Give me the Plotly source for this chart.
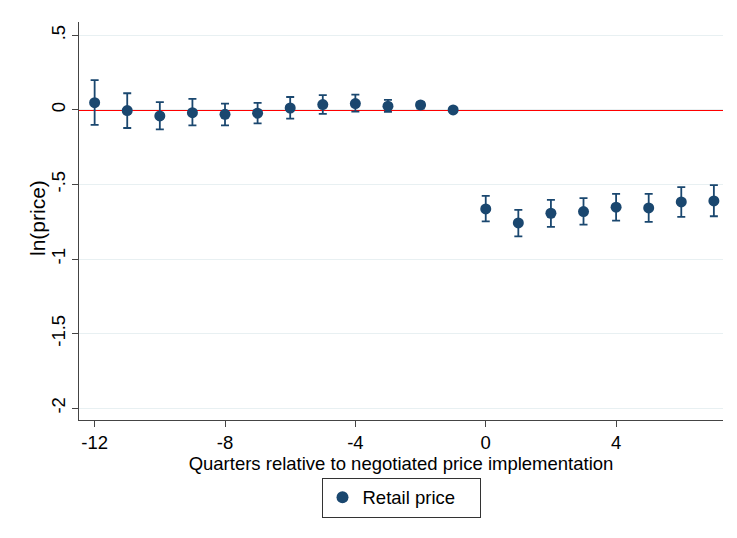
import plotly.graph_objects as go

quarters = [-12, -11, -10, -9, -8, -7, -6, -5, -4, -3, -2, -1, 0, 1, 2, 3, 4, 5, 6, 7]
coef = [0.049, -0.004, -0.040, -0.018, -0.029, -0.022, 0.013, 0.036, 0.043, 0.025, 0.034, 0.0,
        -0.664, -0.758, -0.693, -0.682, -0.652, -0.657, -0.617, -0.610]
ci_hi = [0.200, 0.112, 0.052, 0.074, 0.043, 0.047, 0.087, 0.099, 0.103, 0.067, 0.054, 0.0,
         -0.576, -0.670, -0.603, -0.592, -0.563, -0.563, -0.518, -0.504]
ci_lo = [-0.100, -0.121, -0.130, -0.103, -0.103, -0.090, -0.058, -0.027, -0.011, -0.013, 0.009, 0.0,
         -0.747, -0.848, -0.785, -0.769, -0.742, -0.751, -0.717, -0.713]

y_ticks = [0.5, 0, -0.5, -1, -1.5, -2]
y_tick_labels = [".5", "0", "-.5", "-1", "-1.5", "-2"]
x_ticks = [-12, -8, -4, 0, 4]
x_tick_labels = ["-12", "-8", "-4", "0", "4"]

navy = "#1a476f"
font_family = "Liberation Sans, Arial, sans-serif"
fs = 18.5

fig = go.Figure()
fig.add_trace(go.Scatter(
    x=quarters, y=coef, mode="markers", name="Retail price",
    marker=dict(color=navy, size=11),
    error_y=dict(type="data", symmetric=False,
                 array=[h - c for h, c in zip(ci_hi, coef)],
                 arrayminus=[c - l for c, l in zip(coef, ci_lo)],
                 color=navy, thickness=1.8, width=4),
))
fig.add_hline(y=0, line=dict(color="#ff0000", width=2), layer="below")

# y-axis title as an annotation so it can sit close to the tick labels
fig.add_annotation(text="ln(price)", textangle=-90, xref="paper", yref="paper",
                   x=0, y=0.5075, xanchor="center", yanchor="middle", xshift=-42,
                   showarrow=False, font=dict(size=21, family=font_family, color="black"))

# page body has an 8px default margin, so the figure is sized to fit the window
fig.update_layout(
    width=729, height=530,
    margin=dict(l=71, r=14, t=14, b=118, autoexpand=False),
    paper_bgcolor="white", plot_bgcolor="white",
    font=dict(family=font_family, size=fs, color="black"),
    showlegend=True,
    legend=dict(orientation="h", x=0.5, xanchor="center", y=-0.145, yanchor="top",
                bordercolor="#333333", borderwidth=1, font=dict(size=fs),
                itemsizing="constant", entrywidth=112),
    xaxis=dict(range=[-12.48, 7.28], tickvals=x_ticks, ticktext=x_tick_labels,
               showgrid=False, zeroline=False, automargin=False,
               showline=True, linecolor="#444444", linewidth=1,
               ticks="outside", ticklen=6, tickcolor="#444444",
               title=dict(text="Quarters relative to negotiated price implementation",
                          standoff=4, font=dict(size=fs))),
    yaxis=dict(range=[-2.08, 0.59], tickvals=y_ticks, ticktext=y_tick_labels,
               tickangle=-90, showgrid=True, gridcolor="#e8f0f2", gridwidth=1,
               zeroline=False, showline=True, linecolor="#444444", linewidth=1,
               ticks="outside", ticklen=6, tickcolor="#444444", automargin=False),
)

fig.write_html("out.html")
